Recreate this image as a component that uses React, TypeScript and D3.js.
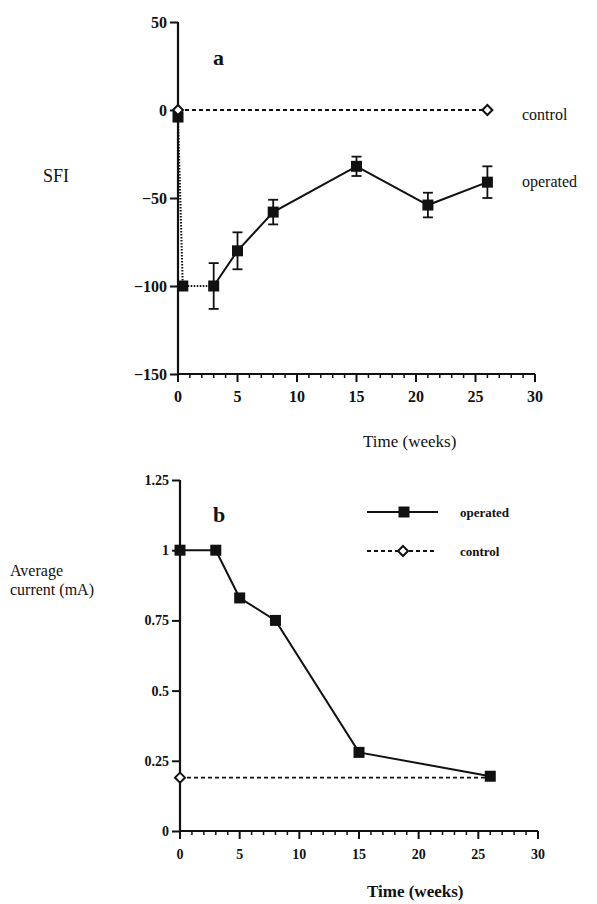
import React, { useRef, useEffect } from "react";
import * as d3 from "d3";

// panel a: SFI over time
const sfiTimes = [0, 0.4, 3, 5, 8, 15, 21, 26];
const sfiOperated = [-4, -100, -100, -80, -58, -32, -54, -41];
const sfiErrors = [0, 0, 13, 10.5, 7, 5.5, 7, 9];
const sfiControlTimes = [0, 26];
const sfiControl = [0, 0];
const sfiTicks = [50, 0, -50, -100, -150];

// panel b: average current
const currentTimes = [0, 3, 5, 8, 15, 26];
const currentOperated = [1, 1, 0.83, 0.75, 0.28, 0.195];
const currentControlTimes = [0, 26];
const currentControl = [0.19, 0.19];
const currentTicks = [0, 0.25, 0.5, 0.75, 1, 1.25];
const currentTickLabels = ["0", "0.25", "0.5", "0.75", "1", "1.25"];

const timeTicks = [0, 5, 10, 15, 20, 25, 30];
const timeMinorTicks = d3.range(0, 31);

const FONT = "Liberation Serif, Times New Roman, serif";

const App = () => {
  const svgRef = useRef<SVGSVGElement>(null);

  useEffect(() => {
    const svg = d3.select(svgRef.current);
    svg.selectAll("*").remove();

    const drawAxes = (g, x, y, yTicks, yFormat, fontSize) => {
      const [x0, x1] = x.range();
      const [yb, yt] = y.range();
      // minor ticks every week
      g.selectAll(null).data(timeMinorTicks).enter().append("line")
        .attr("x1", (d) => x(d)).attr("x2", (d) => x(d))
        .attr("y1", yb).attr("y2", (d) => yb + (d % 5 === 0 ? 8 : 4))
        .attr("stroke", "#111").attr("stroke-width", (d) => (d % 5 === 0 ? 2 : 1.5));
      g.selectAll(null).data(timeTicks).enter().append("text")
        .attr("x", (d) => x(d)).attr("y", yb + 28)
        .attr("text-anchor", "middle")
        .attr("font-family", FONT).attr("font-weight", "bold").attr("font-size", fontSize)
        .attr("fill", "#111")
        .text(d3.format("d"));
      g.append("line").attr("x1", x0).attr("x2", x1).attr("y1", yb).attr("y2", yb)
        .attr("stroke", "#111").attr("stroke-width", 2.2);

      const yAxis = d3.axisLeft(y).tickValues(yTicks).tickSize(8).tickPadding(3).tickFormat(yFormat);
      const yg = g.append("g").attr("transform", `translate(${x0},0)`).call(yAxis);
      yg.select(".domain").remove();
      yg.selectAll("line").attr("stroke", "#111").attr("stroke-width", 2);
      yg.selectAll("text")
        .attr("fill", "#111")
        .attr("font-family", FONT)
        .attr("font-weight", "bold")
        .attr("font-size", fontSize);
      yg.attr("font-family", FONT);
      g.append("line").attr("x1", x0).attr("x2", x0).attr("y1", yb + 1).attr("y2", yt)
        .attr("stroke", "#111").attr("stroke-width", 2.2);
    };

    const squares = (g, pts, size) => {
      g.selectAll(null).data(pts).enter().append("rect")
        .attr("x", (d) => d[0] - size / 2)
        .attr("y", (d) => d[1] - size / 2)
        .attr("width", size).attr("height", size)
        .attr("fill", "#111");
    };
    const diamonds = (g, pts, size) => {
      const sym = d3.symbol(d3.symbolDiamond2, size * size);
      g.selectAll(null).data(pts).enter().append("path")
        .attr("transform", (d) => `translate(${d[0]},${d[1]})`)
        .attr("d", sym)
        .attr("fill", "white").attr("stroke", "#111").attr("stroke-width", 2);
    };
    const text = (str, x, y, size, weight = "normal") =>
      svg.append("text").attr("x", x).attr("y", y).text(str)
        .attr("font-family", FONT).attr("font-size", size)
        .attr("font-weight", weight).attr("fill", "#111");

    // ---------- panel a ----------
    const xA = d3.scaleLinear().domain([0, 30]).range([178, 535]);
    const yA = d3.scaleLinear().domain([-150, 50]).range([374, 22]);
    const gA = svg.append("g");
    drawAxes(gA, xA, yA, sfiTicks, d3.format("d"), 16);

    const lineA = d3.line<number>().x((d, i) => xA(sfiTimes[i])).y((d) => yA(d));
    const ctrlLineA = d3.line<number>().x((d, i) => xA(sfiControlTimes[i])).y((d) => yA(d));
    gA.append("path").attr("d", ctrlLineA(sfiControl)).attr("fill", "none")
      .attr("stroke", "#111").attr("stroke-width", 1.8).attr("stroke-dasharray", "4,3");
    // early dotted segment, then the solid recovery line
    gA.append("path").attr("d", lineA(sfiOperated.slice(0, 3))).attr("fill", "none")
      .attr("stroke", "#111").attr("stroke-width", 2).attr("stroke-dasharray", "1.5,1.5");
    const lineA2 = d3.line<number>().x((d, i) => xA(sfiTimes[i + 2])).y((d) => yA(d));
    gA.append("path").attr("d", lineA2(sfiOperated.slice(2))).attr("fill", "none")
      .attr("stroke", "#111").attr("stroke-width", 2);

    sfiOperated.forEach((v, i) => {
      const e = sfiErrors[i];
      if (!e) return;
      const cx = xA(sfiTimes[i]);
      gA.append("line").attr("x1", cx).attr("x2", cx).attr("y1", yA(v - e)).attr("y2", yA(v + e))
        .attr("stroke", "#111").attr("stroke-width", 1.8);
      [v - e, v + e].forEach((c) =>
        gA.append("line").attr("x1", cx - 5).attr("x2", cx + 5).attr("y1", yA(c)).attr("y2", yA(c))
          .attr("stroke", "#111").attr("stroke-width", 1.8));
    });
    squares(gA, sfiOperated.map((v, i) => [xA(sfiTimes[i]), yA(v)]), 11);
    diamonds(gA, sfiControl.map((v, i) => [xA(sfiControlTimes[i]), yA(v)]), 8);

    text("a", 213, 65, 22, "bold");
    text("SFI", 43, 182, 18);
    text("control", 522, 120, 16);
    text("operated", 522, 187, 16);
    text("Time (weeks)", 363, 447, 17);

    // ---------- panel b ----------
    const xB = d3.scaleLinear().domain([0, 30]).range([180, 538]);
    const yB = d3.scaleLinear().domain([0, 1.25]).range([831, 480]);
    const gB = svg.append("g");
    drawAxes(gB, xB, yB, currentTicks, (d, i) => currentTickLabels[i], 14);

    const ctrlLineB = d3.line<number>().x((d, i) => xB(currentControlTimes[i])).y((d) => yB(d));
    gB.append("path").attr("d", ctrlLineB(currentControl)).attr("fill", "none")
      .attr("stroke", "#111").attr("stroke-width", 1.8).attr("stroke-dasharray", "4,3");
    const lineB = d3.line<number>().x((d, i) => xB(currentTimes[i])).y((d) => yB(d));
    gB.append("path").attr("d", lineB(currentOperated)).attr("fill", "none")
      .attr("stroke", "#111").attr("stroke-width", 2);
    diamonds(gB, [[xB(currentControlTimes[0]), yB(currentControl[0])]], 8);
    squares(gB, currentOperated.map((v, i) => [xB(currentTimes[i]), yB(v)]), 11);

    // legend
    const lg = svg.append("g");
    lg.append("line").attr("x1", 367).attr("x2", 438).attr("y1", 512).attr("y2", 512)
      .attr("stroke", "#111").attr("stroke-width", 2);
    squares(lg, [[404, 512]], 11);
    lg.append("line").attr("x1", 367).attr("x2", 436).attr("y1", 551).attr("y2", 551)
      .attr("stroke", "#111").attr("stroke-width", 1.8).attr("stroke-dasharray", "4,3");
    diamonds(lg, [[403, 551]], 8);
    text("operated", 460, 517, 13, "bold");
    text("control", 460, 556, 13, "bold");

    text("b", 213, 522, 22, "bold");
    text("Average", 10, 576, 16);
    text("current (mA)", 10, 595, 16);
    text("Time (weeks)", 367, 897, 17, "bold");
  }, []);

  return (
    <svg
      ref={svgRef}
      width={597}
      height={904}
      style={{ position: "absolute", left: 0, top: 0, background: "white" }}
    />
  );
};

export default App;
